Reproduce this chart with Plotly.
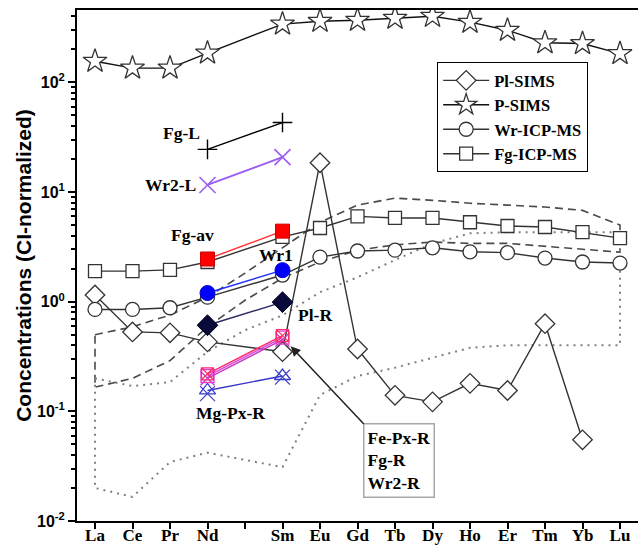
import math
import plotly.graph_objects as go

# ---------------- data ----------------
ELEMENTS = ["La", "Ce", "Pr", "Nd", "Pm", "Sm", "Eu", "Gd", "Tb", "Dy", "Ho", "Er", "Tm", "Yb", "Lu"]
TICK_LABELS = ["La", "Ce", "Pr", "Nd", " ", "Sm", "Eu", "Gd", "Tb", "Dy", "Ho", "Er", "Tm", "Yb", "Lu"]
REE = ["La", "Ce", "Pr", "Nd", "Sm", "Eu", "Gd", "Tb", "Dy", "Ho", "Er", "Tm", "Yb", "Lu"]

pl_sims_el = ["La", "Ce", "Pr", "Nd", "Sm", "Eu", "Gd", "Tb", "Dy", "Ho", "Er", "Tm", "Yb"]
pl_sims = [1.15, 0.53, 0.52, 0.43, 0.35, 18.5, 0.37, 0.14, 0.122, 0.18, 0.155, 0.63, 0.055]
p_sims = [156, 135, 135, 185, 340, 361, 369, 385, 401, 354, 299, 230, 226, 183]
wr_icp = [0.85, 0.85, 0.88, 1.1, 1.75, 2.55, 2.9, 2.95, 3.1, 2.85, 2.8, 2.5, 2.3, 2.25]
fg_icp = [1.9, 1.9, 1.95, 2.3, 3.9, 4.7, 6.0, 5.8, 5.8, 5.3, 4.9, 4.8, 4.3, 3.8]

pair_el = ["Nd", "Sm"]
fg_l = [24.5, 43.0]
wr2_l = [11.6, 20.8]
fg_av = [2.45, 4.4]
wr1 = [1.2, 1.94]
pl_r = [0.61, 0.99]
fe_px_r = [0.21, 0.47]
fg_r = [0.22, 0.49]
wr2_r = [0.20, 0.45]
mg_px_r = [0.155, 0.21]
mg_px_r2 = [0.145, 0.205]

# envelopes (La..Lu including Pm position)
dash_upper = [0.50, 0.59, 0.755, 1.10, 1.82, 3.08, 5.3, 7.6, 8.8, 8.4, 7.9, 7.6, 7.3, 6.8, 5.0]
dash_lower = [0.166, 0.20, 0.29, 0.59, 1.03, 1.64, 2.3, 2.95, 3.3, 3.5, 3.4, 3.4, 3.2, 3.0, 2.83]
dot_upper = [0.20, 0.17, 0.185, 0.35, 0.55, 0.75, 1.22, 1.67, 2.4, 3.4, 4.2, 4.3, 4.3, 4.3, 4.3]
dot_lower = [0.020, 0.0166, 0.0345, 0.042, 0.036, 0.031, 0.141, 0.21, 0.25, 0.306, 0.38, 0.40, 0.40, 0.40, 0.40]


def xs(els):
    return [ELEMENTS.index(e) for e in els]


SERIF = "Liberation Serif"
SANS = "Liberation Sans"

fig = go.Figure()

# envelopes
idx = list(range(len(ELEMENTS)))
poly_x = idx + idx[::-1] + [idx[0]]
fig.add_trace(go.Scatter(x=poly_x, y=dash_upper + dash_lower[::-1] + [dash_upper[0]],
                         mode="lines", line=dict(color="#4a4a4a", width=1.6, dash="8px,5px"),
                         showlegend=False, hoverinfo="skip"))
fig.add_trace(go.Scatter(x=poly_x, y=dot_upper + dot_lower[::-1] + [dot_upper[0]],
                         mode="lines", line=dict(color="#808080", width=2, dash="2px,5px"),
                         showlegend=False, hoverinfo="skip"))

openmk = dict(color="white", line=dict(color="#333333", width=1.3))

# main series
fig.add_trace(go.Scatter(x=xs(pl_sims_el), y=pl_sims, name="Pl-SIMS", mode="lines+markers",
                         line=dict(color="#333333", width=1.4),
                         marker=dict(symbol="diamond", size=15, **openmk)))
fig.add_trace(go.Scatter(x=xs(REE), y=p_sims, name="P-SIMS", mode="lines+markers",
                         line=dict(color="#111111", width=1.4),
                         marker=dict(symbol="star", size=18, **openmk)))
fig.add_trace(go.Scatter(x=xs(REE), y=wr_icp, name="Wr-ICP-MS", mode="lines+markers",
                         line=dict(color="#333333", width=1.4),
                         marker=dict(symbol="circle", size=14, **openmk)))
fig.add_trace(go.Scatter(x=xs(REE), y=fg_icp, name="Fg-ICP-MS", mode="lines+markers",
                         line=dict(color="#333333", width=1.4),
                         marker=dict(symbol="square", size=13, **openmk)))

# pair series (Nd-Sm)
px = xs(pair_el)
fig.add_trace(go.Scatter(x=px, y=fg_l, mode="lines+markers", showlegend=False,
                         line=dict(color="black", width=1.4),
                         marker=dict(symbol="cross-thin", size=14, line=dict(color="black", width=1.4))))
fig.add_trace(go.Scatter(x=px, y=wr2_l, mode="lines+markers", showlegend=False,
                         line=dict(color="#9b5cf0", width=1.8),
                         marker=dict(symbol="x-thin", size=16, line=dict(color="#9b5cf0", width=1.6))))
fig.add_trace(go.Scatter(x=px, y=fg_av, mode="lines+markers", showlegend=False,
                         line=dict(color="#ff3030", width=1.4),
                         marker=dict(symbol="square", size=14, color="#ff0000", line=dict(color="#cc0000", width=1))))
fig.add_trace(go.Scatter(x=px, y=wr1, mode="lines+markers", showlegend=False,
                         line=dict(color="#2030ff", width=1.4),
                         marker=dict(symbol="circle", size=15, color="#0000ff", line=dict(color="#0000cc", width=1))))
fig.add_trace(go.Scatter(x=px, y=pl_r, mode="lines+markers", showlegend=False,
                         line=dict(color="#2a2a60", width=1.4),
                         marker=dict(symbol="diamond", size=16, color="#0a0a3a", line=dict(color="#000020", width=1))))
fig.add_trace(go.Scatter(x=px, y=mg_px_r, mode="lines+markers", showlegend=False,
                         line=dict(color="#3535c8", width=1.4),
                         marker=dict(symbol="triangle-up-open", size=14, color="#3a3ad0", line=dict(width=1.3))))
fig.add_trace(go.Scatter(x=px, y=mg_px_r2, mode="markers", showlegend=False,
                         marker=dict(symbol="x-thin", size=15, line=dict(color="#4040d0", width=1.3))))
fig.add_trace(go.Scatter(x=px, y=wr2_r, mode="lines+markers", showlegend=False,
                         line=dict(color="#c040c0", width=1.4),
                         marker=dict(symbol="x-thin", size=14, line=dict(color="#c040c0", width=1.3))))
fig.add_trace(go.Scatter(x=px, y=fe_px_r, mode="lines+markers", showlegend=False,
                         line=dict(color="#e040e0", width=1.4),
                         marker=dict(symbol="square-open", size=13, color="#e040e0", line=dict(width=1.3))))
fig.add_trace(go.Scatter(x=px, y=fg_r, mode="lines+markers", showlegend=False,
                         line=dict(color="#ff2a6a", width=1.4),
                         marker=dict(symbol="square-x-open", size=12, color="#ff2a6a", line=dict(width=1.2))))

# labels
lab_font = dict(family=SERIF, size=17.5, color="black", weight="bold")
nd, sm = ELEMENTS.index("Nd"), ELEMENTS.index("Sm")
L = math.log10
annos = [
    dict(x=nd, y=L(fg_l[0]), text="Fg-L", xanchor="right", xshift=-6, yshift=16),
    dict(x=nd, y=L(wr2_l[0]), text="Wr2-L", xanchor="right", xshift=-10, yshift=0),
    dict(x=nd, y=L(fg_av[0]), text="Fg-av", xanchor="center", xshift=-15, yshift=24),
    dict(x=sm, y=L(wr1[1]), text="Wr1", xanchor="center", xshift=-7, yshift=15),
    dict(x=sm, y=L(pl_r[1]), text="Pl-R", xanchor="left", xshift=13, yshift=-13),
    dict(x=nd, y=L(mg_px_r[0]), text="Mg-Px-R", xanchor="left", xshift=-14, yshift=-23),
]
for a in annos:
    fig.add_annotation(xref="x", yref="y", showarrow=False, font=lab_font, **a)

fig.add_annotation(xref="x", yref="y", x=sm, y=L(fe_px_r[1]),
                   text="Fe-Px-R<br>Fg-R<br>Wr2-R", align="left",
                   font=dict(family=SERIF, size=17.5, color="black", weight="bold"),
                   showarrow=True, arrowhead=2, arrowsize=1.3, arrowwidth=1.5, arrowcolor="#222222",
                   standoff=12, ax=116, ay=123,
                   bordercolor="#a8a8a8", borderwidth=1.5, borderpad=3, bgcolor="white")

minor_vals = [m * 10 ** k for k in range(-2, 3) for m in range(2, 10)]

fig.update_layout(
    width=638, height=550,
    margin=dict(l=77, r=0, t=10, b=29, autoexpand=False),
    plot_bgcolor="white", paper_bgcolor="white",
    showlegend=True,
    legend=dict(x=0.642, y=0.898, xanchor="left", yanchor="top",
                bordercolor="black", borderwidth=1, bgcolor="white",
                font=dict(family=SERIF, size=16.5, color="black", weight="bold"),
                itemwidth=46, tracegroupgap=0),
    xaxis=dict(range=[-0.48, 14.48], tickmode="array", tickvals=idx, ticktext=TICK_LABELS,
               ticks="outside", ticklen=6, tickwidth=2, tickcolor="black",
               ticklabelstandoff=-8,
               showline=True, linecolor="black", linewidth=2, mirror=True,
               showgrid=False, zeroline=False, automargin=False,
               tickfont=dict(family=SERIF, size=17, color="black", weight="bold")),
    yaxis=dict(type="log", range=[-2, 2.66], tickmode="array",
               tickvals=[0.01, 0.1, 1, 10, 100],
               ticktext=["10<sup>-2</sup>", "10<sup>-1</sup>", "10<sup>0</sup>", "10<sup>1</sup>", "10<sup>2</sup>"],
               ticks="outside", ticklen=7, tickwidth=2, tickcolor="black",
               minor=dict(tickmode="array", tickvals=minor_vals, ticks="outside", ticklen=4,
                          tickwidth=1.5, tickcolor="black", showgrid=False),
               showline=True, linecolor="black", linewidth=2,
               showgrid=False, zeroline=False, automargin=False,
               tickfont=dict(family=SANS, size=16, color="black", weight="bold"),
               title=dict(text="Concentrations (CI-normalized)", standoff=0,
                          font=dict(family=SANS, size=21, color="black", weight="bold"))),
)

fig.write_html("out.html", config={"displayModeBar": False},
               post_script="document.body.style.margin='0';document.body.style.overflow='hidden';")
